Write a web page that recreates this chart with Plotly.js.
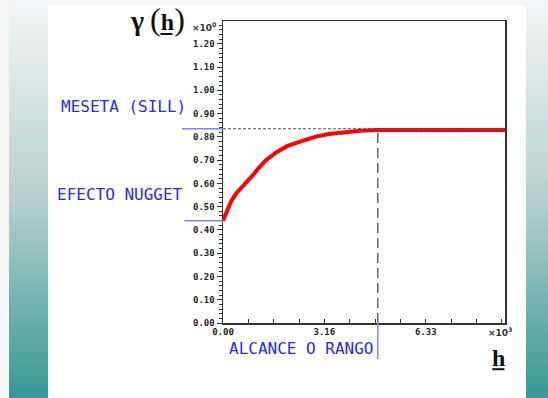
<!DOCTYPE html>
<html>
<head>
<meta charset="utf-8">
<script src="https://cdn.plot.ly/plotly-3.0.1.min.js"></script>
<style>
  html, body { margin: 0; padding: 0; }
  #wrap { position: relative; width: 548px; height: 398px; background: #f4f6f6; overflow: hidden; }
  .strip { position: absolute; top: 6px; height: 392px;
           background: linear-gradient(to bottom, #f1f5f5 0%, #b4cfcd 50%, #379894 100%); }
  #panel { position: absolute; left: 48px; top: 6px; width: 478px; height: 392px; background: #ffffff; }
  #chart { position: absolute; left: 0; top: 0; width: 548px; height: 398px; }
</style>
</head>
<body>
<div id="wrap">
  <div class="strip" style="left:9px; width:39px;"></div>
  <div class="strip" style="left:526px; width:22px;"></div>
  <div id="panel"></div>
  <div id="chart"></div>
</div>
<script>
// Semivariogram curve (h in ×10^3 units, gamma in ×10^0)
const hValues = [0.0, 0.12, 0.25, 0.415, 0.69, 0.905, 1.12, 1.34, 1.67, 1.995, 2.43, 2.87, 3.30, 3.74, 4.28, 4.83, 6.0, 7.0, 8.8];
const gammaValues = [0.44, 0.48, 0.522, 0.558, 0.598, 0.631, 0.667, 0.700, 0.734, 0.760, 0.781, 0.800, 0.812, 0.820, 0.826, 0.829, 0.829, 0.829, 0.829];

const sill = 0.835;
const nugget = 0.44;
const range = 4.83;
const xMax = 8.8;
const yMax = 1.298;

const labelSill = "MESETA (SILL)";
const labelNugget = "EFECTO NUGGET";
const labelRange = "ALCANCE O RANGO";

const tickFont = {family: "DejaVu Sans Mono", size: 9, color: "#222222", weight: "bold"};
const blue = "#2a2aee";
const blueLine = "#8080ff";

const traces = [{
  x: hValues, y: gammaValues, type: "scatter", mode: "lines",
  line: {color: "#ff0000", width: 4, shape: "linear"},
  hoverinfo: "skip"
}];

const layout = {
  width: 548, height: 398,
  margin: {l: 222.6, r: 43, t: 21, b: 75, pad: 0},
  paper_bgcolor: "rgba(0,0,0,0)",
  plot_bgcolor: "#ffffff",
  showlegend: false,
  xaxis: {
    range: [0, xMax], tick0: 0, dtick: 3.163, tickformat: ".2f",
    ticks: "inside", ticklen: 4, tickcolor: "#333", tickwidth: 1,
    minor: {dtick: 3.163 / 4, ticks: "inside", ticklen: 4, tickcolor: "#333"},
    showgrid: false, zeroline: false,
    showline: true, linecolor: "#333", linewidth: 1.5, mirror: true,
    tickfont: tickFont, fixedrange: true
  },
  yaxis: {
    range: [0, yMax], tick0: 0, dtick: 0.1, tickformat: ".2f",
    ticks: "outside", ticklen: 5, tickcolor: "#333", tickwidth: 1,
    minor: {dtick: 0.02, ticks: "outside", ticklen: 3, tickcolor: "#333"},
    showgrid: false, zeroline: false,
    showline: true, linecolor: "#333", linewidth: 1.5, mirror: true,
    tickfont: tickFont, fixedrange: true
  },
  shapes: [
    {type: "line", xref: "x", yref: "y", x0: 0, x1: xMax, y0: sill, y1: sill,
     line: {color: "#555", width: 1, dash: "3px,2px"}},
    {type: "line", xref: "x", yref: "y", x0: range, x1: range, y0: 0, y1: sill,
     line: {color: "#666", width: 1.5, dash: "10px,5px"}},
    {type: "line", xref: "paper", yref: "y", x0: -0.145, x1: 0, y0: sill, y1: sill,
     line: {color: blueLine, width: 1.5}},
    {type: "line", xref: "paper", yref: "y", x0: -0.137, x1: 0, y0: nugget, y1: nugget,
     line: {color: blueLine, width: 1.5}},
    {type: "line", xref: "x", yref: "paper", x0: range, x1: range, y0: 0, y1: -0.119,
     line: {color: blueLine, width: 1.5}},
    {type: "line", xref: "paper", yref: "paper", x0: -0.2217, x1: -0.179, y0: 0.957, y1: 0.957,
     line: {color: "#111", width: 2}},
    {type: "line", xref: "paper", yref: "paper", x0: 0.955, x1: 0.998, y0: -0.153, y1: -0.153,
     line: {color: "#111", width: 2}}
  ],
  annotations: [
    {xref: "paper", yref: "paper", x: -0.1225, y: 0.7185, xanchor: "right", yanchor: "middle",
     text: labelSill, showarrow: false, font: {family: "DejaVu Sans Mono", size: 16, color: blue}},
    {xref: "paper", yref: "paper", x: -0.133, y: 0.424, xanchor: "right", yanchor: "middle",
     text: labelNugget, showarrow: false, font: {family: "DejaVu Sans Mono", size: 16, color: blue}},
    {xref: "paper", yref: "paper", x: 0.0138, y: -0.086, xanchor: "left", yanchor: "middle",
     text: labelRange, showarrow: false, font: {family: "DejaVu Sans Mono", size: 16, color: blue}},
    {xref: "paper", yref: "paper", x: -0.232, y: 1.006, xanchor: "center", yanchor: "middle",
     text: "<b><span style='font-size:28px'>γ</span></b> <span style='font-size:32px'>(</span><b>h</b><span style='font-size:32px'>)</span>",
     showarrow: false, font: {family: "Liberation Serif", size: 24, color: "#111"}},
    {xref: "paper", yref: "paper", x: 0.977, y: -0.117, xanchor: "center", yanchor: "middle",
     text: "<b>h</b>", showarrow: false, font: {family: "Liberation Serif", size: 24, color: "#111"}},
    {xref: "paper", yref: "paper", x: -0.015, y: 0.98, xanchor: "right", yanchor: "middle",
     text: "<b>×10<sup>0</sup></b>", showarrow: false, font: {family: "DejaVu Sans", size: 9, color: "#333"}},
    {xref: "paper", yref: "paper", x: 1.033, y: -0.03, xanchor: "right", yanchor: "middle",
     text: "<b>×10<sup>3</sup></b>", showarrow: false, font: {family: "DejaVu Sans", size: 9, color: "#333"}}
  ]
};

Plotly.newPlot("chart", traces, layout, {staticPlot: true, displayModeBar: false});
</script>
</body>
</html>
